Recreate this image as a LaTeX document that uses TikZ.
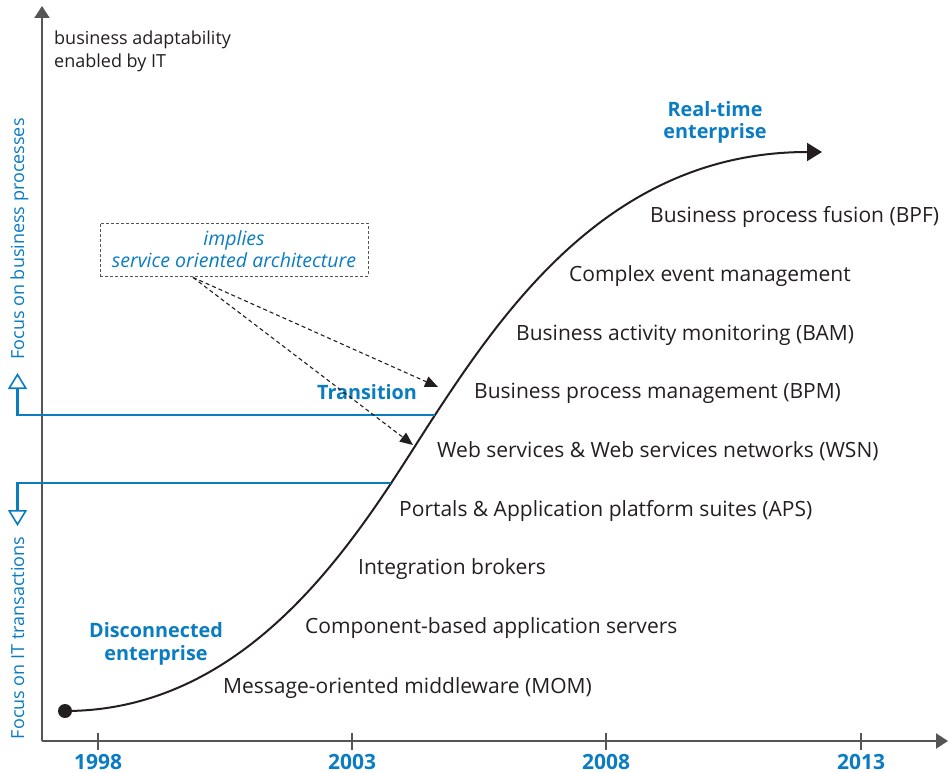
\documentclass[tikz,border=0pt]{standalone}
\usepackage{fontspec}
\setmainfont{Open Sans}
\usetikzlibrary{arrows.meta,calc}
\definecolor{ink}{HTML}{231F20}
\definecolor{axisgray}{HTML}{555555}
\definecolor{sblue}{HTML}{0A7CC2}

\begin{document}
\begin{tikzpicture}[x=1pt,y=-1pt,
  stage/.style={anchor=base west, inner sep=0, text=ink, font=\fontsize{21}{24}\selectfont},
  era/.style={anchor=base, align=center, inner sep=0, text=sblue, font=\bfseries\fontsize{19.8}{22.5}\selectfont},
  year/.style={anchor=base, inner sep=0, text=sblue, font=\bfseries\fontsize{21}{24}\selectfont},
  focus/.style={anchor=base, rotate=90, inner sep=0, text=sblue, font=\fontsize{18}{20}\selectfont},
  axisline/.style={draw=axisgray, line width=2pt},
  tick/.style={draw=axisgray, line width=1.3pt},
  focusline/.style={draw=sblue, line width=2.2pt, -{Triangle[open, length=16pt, width=19pt, line width=1.6pt]}},
  hint/.style={draw=ink, line width=1.1pt, dash pattern=on 4pt off 3pt, -{Triangle[length=13pt, width=11pt]}},
  curve/.style={draw=ink, line width=2pt}
]
\useasboundingbox (0,0) rectangle (950,773);

% axes
\coordinate (O) at (42,741);
\coordinate (ytop) at (42,6);
\coordinate (xend) at (948,741);
\draw[axisline, -{Triangle[length=12pt, width=15pt]}] (O) -- (ytop);
\draw[axisline, -{Triangle[length=12pt, width=15pt]}] (O) -- (xend);
\node[anchor=base west, inner sep=0, text=ink, align=left, font=\fontsize{18}{23}\selectfont]
  (ylabel) at (54,68) {business adaptability\\enabled by IT};

% year ticks and labels
\foreach \x/\yr in {98/1998, 352/2003, 606/2008, 861/2013}{
  \draw[tick] (\x,733) -- (\x,750);
  \node[year] (y\yr) at (\x,769) {\yr};
}

% adoption curve: flat start, steep transition, flat finish
\coordinate (start) at (65,711);
\coordinate (mid) at (435,415);
\coordinate (finish) at (822,152);
\fill[ink] (start) circle (7);
\draw[curve, -{Triangle[length=15pt, width=18pt]}]
  (start) .. controls (263,711) and (370.5,513.7) .. (mid)
          .. controls (510.8,299) and (617,152) .. (finish);

% technology stages
\node[stage] (bpf) at (650,222) {Business process fusion (BPF)};
\node[stage] (cem) at (569,281) {Complex event management};
\node[stage] (bam) at (516,340) {Business activity monitoring (BAM)};
\node[stage] (bpm) at (474,398) {Business process management (BPM)};
\node[stage] (wsn) at (437,457) {Web services \& Web services networks (WSN)};
\node[stage] (aps) at (399,516) {Portals \& Application platform suites (APS)};
\node[stage] (ib)  at (358,574) {Integration brokers};
\node[stage] (cas) at (305,633) {Component-based application servers};
\node[stage] (mom) at (223,693) {Message-oriented middleware (MOM)};

% eras
\node[era] (rte) at (715,139) {Real-time\\enterprise};
\node[era] (dis) at (156,660) {Disconnected\\enterprise};
\node[era] (tra) at (367,399) {Transition};

% focus boundaries
\coordinate (upper) at (435,415);
\coordinate (lower) at (391,483);
\coordinate (uptip) at (17.5,373);
\coordinate (downtip) at (17.5,526);
\draw[focusline] (upper) -| (uptip);
\draw[focusline] (lower) -| (downtip);
\node[focus] (fbp) at (24,239) {Focus on business processes};
\node[focus] (fit) at (24,638) {Focus on IT transactions};

% SOA note
\node[draw=axisgray, line width=0.9pt, dash pattern=on 3pt off 2pt,
      minimum width=268pt, minimum height=53pt, inner sep=0,
      text=sblue, align=center, font=\itshape\fontsize{19.5}{22}\selectfont]
  (soa) at (234,249.5) {implies\\service oriented architecture};
\coordinate (src) at ($(soa.south)+(-41,1)$);
\coordinate (bpmtip) at (438,387);
\coordinate (wsntip) at (413,445);
\draw[hint] (src) -- (bpmtip);
\draw[hint] (src) -- (wsntip);
\end{tikzpicture}
\end{document}
